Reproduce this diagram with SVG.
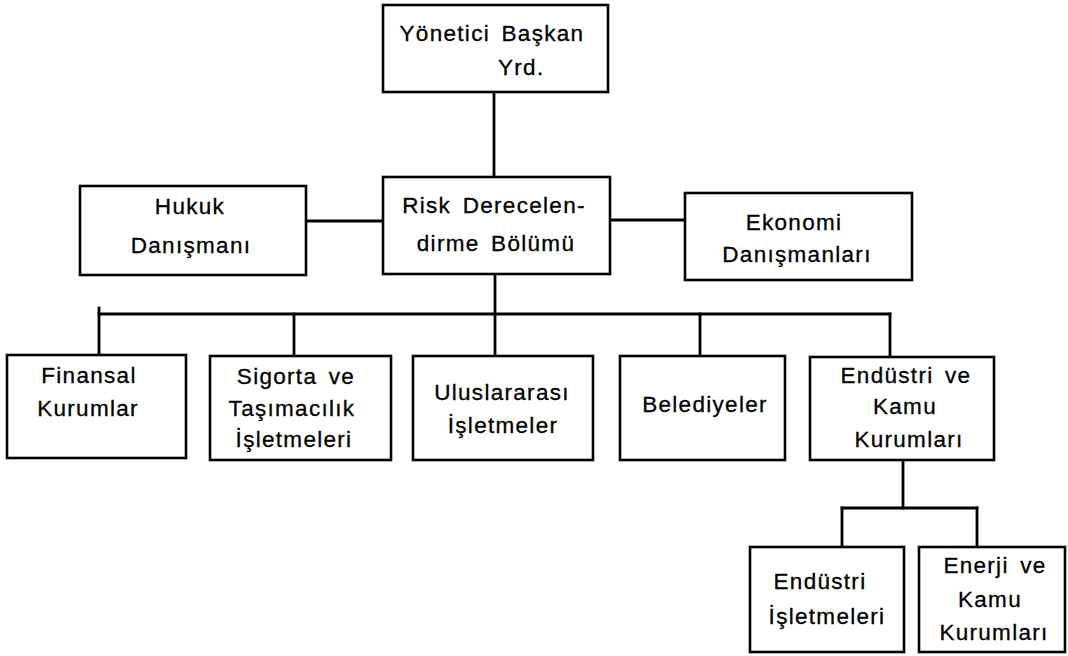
<svg xmlns="http://www.w3.org/2000/svg" width="1068" height="656" viewBox="0 0 1068 656">
  <style>
    .box { fill: #ffffff; stroke: #000000; stroke-width: 2.6; }
    .lbl { font-family: "Liberation Sans", Arial, sans-serif; font-size: 22.5px; fill: #000000; stroke: #000000; stroke-width: 0.3; letter-spacing: 1.3px; word-spacing: 4px; text-anchor: middle; }
    .wire { fill: none; stroke: #000000; stroke-width: 2.8; stroke-linecap: square; }
  </style>
  <rect x="0" y="0" width="1068" height="656" fill="#ffffff"/>

  <!-- connectors -->
  <g id="connectors" class="wire">
    <line x1="494" y1="92" x2="494" y2="177"/>
    <line x1="306" y1="221" x2="383" y2="221"/>
    <line x1="610" y1="220" x2="685" y2="220"/>
    <line x1="495" y1="274" x2="495" y2="356"/>
    <line x1="99" y1="314" x2="890" y2="314"/>
    <line x1="99" y1="308" x2="99" y2="355"/>
    <line x1="294" y1="314" x2="294" y2="356"/>
    <line x1="700" y1="314" x2="700" y2="356"/>
    <line x1="890" y1="314" x2="890" y2="357"/>
    <line x1="903" y1="460" x2="903" y2="508"/>
    <line x1="842" y1="508" x2="977" y2="508"/>
    <line x1="842" y1="508" x2="842" y2="547"/>
    <line x1="977" y1="508" x2="977" y2="547"/>
  </g>

  <g id="yonetici-baskan-yrd">
    <rect class="box" x="383" y="5" width="225" height="87"/>
    <text class="lbl" x="492" y="41">Yönetici Başkan</text>
    <text class="lbl" x="498" y="75" style="text-anchor:start">Yrd.</text>
  </g>

  <g id="hukuk-danismani">
    <rect class="box" x="80" y="186" width="226" height="89"/>
    <text class="lbl" x="190" y="214">Hukuk</text>
    <text class="lbl" x="191" y="253">Danışmanı</text>
  </g>

  <g id="risk-derecelendirme">
    <rect class="box" x="383" y="177" width="227" height="97"/>
    <text class="lbl" x="494" y="213">Risk Derecelen-</text>
    <text class="lbl" x="496" y="251">dirme Bölümü</text>
  </g>

  <g id="ekonomi-danismanlari">
    <rect class="box" x="685" y="193" width="227" height="87"/>
    <text class="lbl" x="794" y="230">Ekonomi</text>
    <text class="lbl" x="797" y="262">Danışmanları</text>
  </g>

  <g id="finansal-kurumlar">
    <rect class="box" x="7" y="355" width="179" height="103"/>
    <text class="lbl" x="89" y="383">Finansal</text>
    <text class="lbl" x="88" y="416">Kurumlar</text>
  </g>

  <g id="sigorta-tasimacilik">
    <rect class="box" x="210" y="356" width="181" height="104"/>
    <text class="lbl" x="296" y="384">Sigorta ve</text>
    <text class="lbl" x="292" y="416">Taşımacılık</text>
    <text class="lbl" x="294" y="447">İşletmeleri</text>
  </g>

  <g id="uluslararasi-isletmeler">
    <rect class="box" x="413" y="356" width="180" height="104"/>
    <text class="lbl" x="502" y="400">Uluslararası</text>
    <text class="lbl" x="503" y="433">İşletmeler</text>
  </g>

  <g id="belediyeler">
    <rect class="box" x="620" y="356" width="165" height="104"/>
    <text class="lbl" x="705" y="412">Belediyeler</text>
  </g>

  <g id="endustri-kamu-kurumlari">
    <rect class="box" x="810" y="357" width="184" height="103"/>
    <text class="lbl" x="906" y="383">Endüstri ve</text>
    <text class="lbl" x="905" y="414">Kamu</text>
    <text class="lbl" x="909" y="447">Kurumları</text>
  </g>

  <g id="endustri-isletmeleri">
    <rect class="box" x="750" y="547" width="154" height="105"/>
    <text class="lbl" x="820" y="589">Endüstri</text>
    <text class="lbl" x="827" y="624">İşletmeleri</text>
  </g>

  <g id="enerji-kamu-kurumlari">
    <rect class="box" x="919" y="547" width="146" height="105"/>
    <text class="lbl" x="995" y="573">Enerji ve</text>
    <text class="lbl" x="990" y="607">Kamu</text>
    <text class="lbl" x="994" y="640">Kurumları</text>
  </g>
</svg>
